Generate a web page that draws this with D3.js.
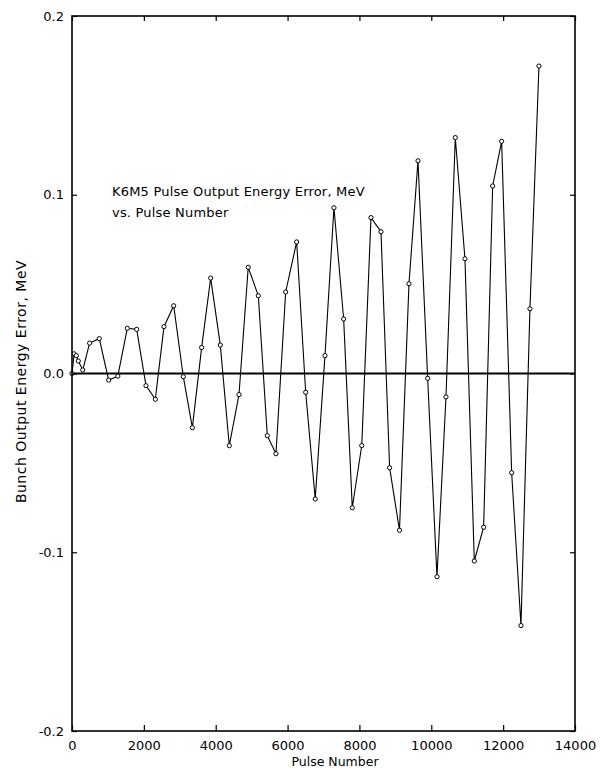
<!DOCTYPE html>
<html>
<head>
<meta charset="utf-8">
<script src="https://cdn.jsdelivr.net/npm/d3@7"></script>
<style>
html, body { margin: 0; padding: 0; background: #fff; }
svg { display: block; }
text { font-family: "DejaVu Sans", Verdana, sans-serif; fill: #000; }
</style>
</head>
<body>
<svg id="chart" width="602" height="768"></svg>
<script>
// Data
const pulseNumber = [0, 60, 120, 175, 300, 490, 760, 1020, 1275, 1539, 1800, 2059, 2319, 2560, 2830, 3098, 3350, 3608, 3860, 4128, 4378, 4648, 4905, 5186, 5436, 5677, 5947, 6253, 6504, 6770, 7041, 7291, 7561, 7801, 8065, 8321, 8600, 8840, 9115, 9379, 9630, 9899, 10158, 10409, 10668, 10937, 11197, 11457, 11708, 11958, 12237, 12496, 12746, 12997];
const energyError = [0.0, 0.011, 0.010, 0.007, 0.002, 0.017, 0.0195, -0.0037, -0.0015, 0.0253, 0.0247, -0.0068, -0.0144, 0.0262, 0.0379, -0.0018, -0.0303, 0.0145, 0.0534, 0.0159, -0.0404, -0.0118, 0.0594, 0.0435, -0.0348, -0.0449, 0.0456, 0.0736, -0.0105, -0.0702, 0.0100, 0.0927, 0.0305, -0.0751, -0.0403, 0.0872, 0.0793, -0.0527, -0.0877, 0.0502, 0.119, -0.0027, -0.1137, -0.0131, 0.132, 0.0642, -0.1049, -0.086, 0.1049, 0.1299, -0.0555, -0.141, 0.0362, 0.172];
const xTicks = [0, 2000, 4000, 6000, 8000, 10000, 12000, 14000];
const yTicks = [-0.2, -0.1, 0.0, 0.1, 0.2];
const xLabel = "Pulse Number";
const yLabel = "Bunch Output Energy Error, MeV";
const noteLines = ["K6M5 Pulse Output Energy Error, MeV", "vs. Pulse Number"];

const svg = d3.select("#chart");
const mLeft = 72, mRight = 575, mTop = 16, mBottom = 731;

const x = d3.scaleLinear().domain([0, 14000]).range([mLeft, mRight]);
const y = d3.scaleLinear().domain([-0.2, 0.2]).range([mBottom, mTop]);

const data = pulseNumber.map((p, i) => ({ p, e: energyError[i] }));

// Zero line (bold)
svg.append("line")
  .attr("x1", x(0)).attr("x2", x(14000))
  .attr("y1", y(0)).attr("y2", y(0))
  .attr("stroke", "#000").attr("stroke-width", 2.2);

// Series line
svg.append("path")
  .datum(data)
  .attr("fill", "none")
  .attr("stroke", "#000")
  .attr("stroke-width", 1.1)
  .attr("d", d3.line().x(d => x(d.p)).y(d => y(d.e)));

// Markers
svg.append("g").selectAll("circle")
  .data(data)
  .join("circle")
  .attr("cx", d => x(d.p))
  .attr("cy", d => y(d.e))
  .attr("r", 2.1)
  .attr("fill", "#fff")
  .attr("stroke", "#000")
  .attr("stroke-width", 1);

const fmtY = d => d.toFixed(1);

// Axes
const gB = svg.append("g").attr("transform", `translate(0,${mBottom})`)
  .call(d3.axisBottom(x).tickValues(xTicks).tickFormat(d3.format("d")).tickSize(-6).tickPadding(10));
const gT = svg.append("g").attr("transform", `translate(0,${mTop})`)
  .call(d3.axisTop(x).tickValues(xTicks).tickFormat("").tickSize(-5));
const gL = svg.append("g").attr("transform", `translate(${mLeft},0)`)
  .call(d3.axisLeft(y).tickValues(yTicks).tickFormat(fmtY).tickSize(-5).tickPadding(8));
const gR = svg.append("g").attr("transform", `translate(${mRight},0)`)
  .call(d3.axisRight(y).tickValues(yTicks).tickFormat("").tickSize(-5));

[gB, gT, gL, gR].forEach(g => {
  g.select(".domain").remove();
  g.selectAll(".tick line").attr("stroke", "#000").attr("stroke-width", 1.2);
  g.selectAll("text").attr("font-family", "DejaVu Sans, Verdana, sans-serif").attr("font-size", 13).attr("fill", "#000");
});

// Frame
svg.append("rect")
  .attr("x", mLeft).attr("y", mTop)
  .attr("width", mRight - mLeft).attr("height", mBottom - mTop)
  .attr("fill", "none").attr("stroke", "#000").attr("stroke-width", 1.6);

// Axis titles
svg.append("text")
  .attr("x", 335).attr("y", 766)
  .attr("text-anchor", "middle")
  .attr("font-size", 12.5)
  .text(xLabel);

svg.append("text")
  .attr("transform", `translate(26,${(mTop + mBottom) / 2 + 8}) rotate(-90)`)
  .attr("text-anchor", "middle")
  .attr("font-size", 14)
  .attr("letter-spacing", 0.5)
  .text(yLabel);

// Annotation
const note = svg.append("text").attr("font-size", 13).attr("letter-spacing", 0.2);
noteLines.forEach((t, i) => {
  note.append("tspan").attr("x", 112).attr("y", 196 + i * 21).text(t);
});
</script>
</body>
</html>
